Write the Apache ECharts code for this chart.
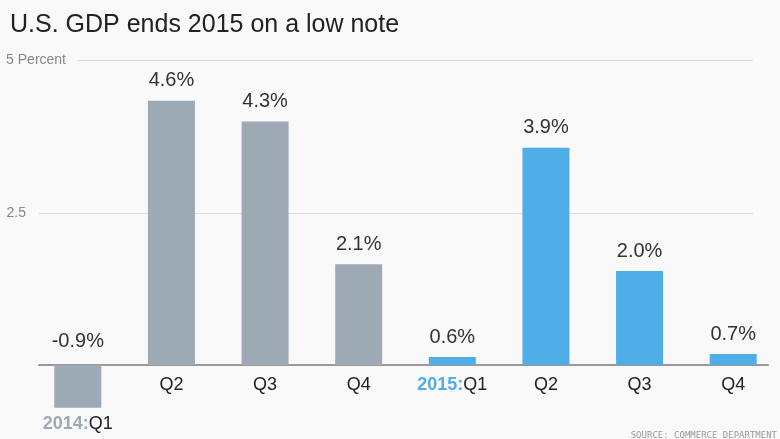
<!DOCTYPE html>
<html>
<head>
<meta charset="utf-8">
<script src="https://cdn.jsdelivr.net/npm/echarts@6/dist/echarts.min.js"></script>
<style>
  html, body { margin: 0; padding: 0; background: #f9f9f9; }
  #chart { width: 780px; height: 439px; }
</style>
</head>
<body>
<div id="chart"></div>
<script>
// quarters on the x axis, year prefix for the first quarter of each year
const quarters = ["Q1", "Q2", "Q3", "Q4", "Q1", "Q2", "Q3", "Q4"];
const years = ["2014", "2014", "2014", "2014", "2015", "2015", "2015", "2015"];
// bar heights as drawn in the picture (percent)
const barValues = [-0.70, 4.33, 3.99, 1.65, 0.13, 3.56, 1.54, 0.18];
// growth figures printed above the bars (percent)
const reported = [-0.9, 4.6, 4.3, 2.1, 0.6, 3.9, 2.0, 0.7];
// y axis ticks
const yTicks = [2.5, 5];

const yearColor = { "2014": "#9daab6", "2015": "#4faee8" };
const font = "'Liberation Sans', Arial, sans-serif";

const chart = echarts.init(document.getElementById("chart"), null, { renderer: "canvas" });

chart.setOption({
  backgroundColor: "#f9f9f9",
  animation: false,
  title: [
    {
      text: "U.S. GDP ends 2015 on a low note",
      left: 5,
      top: 8,
      textStyle: { fontFamily: font, fontSize: 25, fontWeight: "normal", color: "#222" },
    },
    {
      text: "SOURCE: COMMERCE DEPARTMENT",
      right: -2,
      bottom: -6,
      textStyle: { fontFamily: "'DejaVu Sans Mono', monospace", fontSize: 9, fontWeight: "normal", color: "#999" },
    },
  ],
  grid: [
    // bars
    { left: 31, right: 0, top: 60, bottom: 13, outerBoundsMode: "none" },
    // baseline
    { left: 39, right: 12, top: 213, bottom: 74, outerBoundsMode: "none" },
    // 2.5 gridline
    { left: 39, right: 27, top: 213, bottom: 74, outerBoundsMode: "none" },
    // 5 gridline
    { left: 77, right: 27, top: 60, bottom: 74, outerBoundsMode: "none" },
  ],
  xAxis: [
    {
      gridIndex: 0,
      type: "category",
      data: quarters,
      // lift the label row from the -1 floor to the zero line
      offset: -61,
      axisLine: { show: false, onZero: false },
      axisTick: { show: false },
      axisLabel: {
        interval: 0,
        margin: 11,
        fontFamily: font,
        fontSize: 18,
        color: "#222",
        formatter: (q, i) => {
          if (i > 0 && years[i] === years[i - 1]) return q;
          const tag = "{y" + years[i] + "|" + years[i] + ":}{q|" + q + "}";
          return barValues[i] < 0 ? "{gap| }\n" + tag : tag;
        },
        rich: {
          gap: { lineHeight: 39, fontSize: 10 },
          q: { fontFamily: font, fontSize: 18, color: "#222" },
          y2014: { fontFamily: font, fontSize: 18, fontWeight: "bold", color: yearColor["2014"] },
          y2015: { fontFamily: font, fontSize: 18, fontWeight: "bold", color: yearColor["2015"] },
        },
      },
    },
    {
      gridIndex: 1, type: "value", min: 0, max: 1,
      axisLine: { show: true, lineStyle: { color: "#999", width: 2 } },
      axisTick: { show: false }, axisLabel: { show: false }, splitLine: { show: false },
    },
    { gridIndex: 2, type: "value", show: false, min: 0, max: 1 },
    { gridIndex: 3, type: "value", show: false, min: 0, max: 1 },
  ],
  yAxis: [
    { gridIndex: 0, type: "value", min: -1, max: 5, show: false },
    { gridIndex: 1, type: "value", min: 0, max: 1, show: false },
    {
      gridIndex: 2, type: "value", min: 0, max: yTicks[0], interval: yTicks[0],
      axisLine: { show: false }, axisTick: { show: false },
      axisLabel: {
        margin: 13, fontFamily: font, fontSize: 14, color: "#888",
        formatter: (v) => (v === yTicks[0] ? String(v) : ""),
      },
      splitLine: { lineStyle: { color: "#dedede", width: 1 } },
    },
    {
      gridIndex: 3, type: "value", min: 0, max: yTicks[1], interval: yTicks[1],
      axisLine: { show: false }, axisTick: { show: false },
      axisLabel: {
        margin: 11, fontFamily: font, fontSize: 14, color: "#888",
        formatter: (v) => (v === yTicks[1] ? v + " Percent" : ""),
      },
      splitLine: { lineStyle: { color: "#d6dde4", width: 1 } },
    },
  ],
  series: [
    {
      type: "bar",
      xAxisIndex: 0,
      yAxisIndex: 0,
      barWidth: 47,
      z: 3,
      data: barValues.map((v, i) => ({
        value: v,
        itemStyle: { color: yearColor[years[i]] },
        label: v < 0 ? { distance: 14 } : undefined,
      })),
      label: {
        show: true,
        position: "top",
        distance: 10,
        fontFamily: font,
        fontSize: 20,
        color: "#333",
        formatter: (p) => reported[p.dataIndex].toFixed(1) + "%",
      },
    },
  ],
});
</script>
</body>
</html>
